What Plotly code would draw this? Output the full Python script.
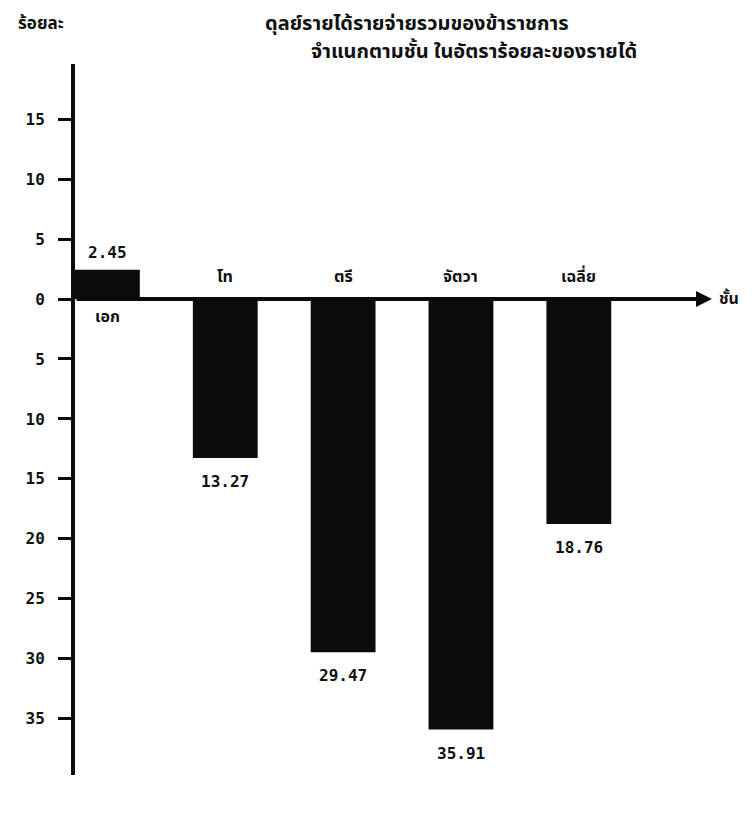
import plotly.graph_objects as go

categories = ["เอก", "โท", "ตรี", "จัตวา", "เฉลี่ย"]
values = [2.45, -13.27, -29.47, -35.91, -18.76]
value_labels = ["2.45", "13.27", "29.47", "35.91", "18.76"]
tick_vals = [15, 10, 5, 0, -5, -10, -15, -20, -25, -30, -35]
tick_text = ["<b>%d</b>" % abs(v) for v in tick_vals]

title_line1 = "ดุลย์รายได้รายจ่ายรวมของข้าราชการ"
title_line2 = "จำแนกตามชั้น ในอัตราร้อยละของรายได้"
y_label = "ร้อยละ"
x_label = "ชั้น"

THAI = "Noto Sans Thai, Noto Sans Thai Looped, Loma, Garuda, Norasi, Tlwg Typo, sans-serif"
MONO = "DejaVu Sans Mono, Liberation Mono, monospace"

W, H = 752, 818
L, R, T, B = 67, 48, 56, 51
PW, PH = W - L - R, H - T - B
OFF = 6


def px_x(px):
    return (px - OFF - L) / PW


def px_y(py):
    return 1 - (py - OFF - T) / PH


xpos = list(range(len(categories)))

fig = go.Figure()
fig.add_trace(go.Bar(
    x=xpos, y=values, width=0.55,
    marker=dict(color="#0b0b0b", line=dict(width=0)),
    showlegend=False, hoverinfo="skip",
))

# value labels
for i, (v, t) in enumerate(zip(values, value_labels)):
    if v >= 0:
        fig.add_annotation(x=i, y=v, text="<b>%s</b>" % t, showarrow=False, yanchor="bottom",
                           yshift=6, font=dict(family=MONO, size=16, color="#111"))
    else:
        fig.add_annotation(x=i, y=v, text="<b>%s</b>" % t, showarrow=False, yanchor="top",
                           yshift=-12, font=dict(family=MONO, size=16, color="#111"))

# category labels
for i, (v, c) in enumerate(zip(values, categories)):
    if v >= 0:
        fig.add_annotation(x=i, y=0, text="<b>%s</b>" % c, showarrow=False, yanchor="top",
                           yshift=-4, font=dict(family=THAI, size=16, color="#111"))
    else:
        fig.add_annotation(x=i, y=0, text="<b>%s</b>" % c, showarrow=False, yanchor="bottom",
                           yshift=8, font=dict(family=THAI, size=16, color="#111"))

# zero line with arrow
fig.add_annotation(x=5.13, y=0, ax=-0.275, ay=0, axref="x", ayref="y",
                   xref="x", yref="y", text="", showarrow=True,
                   arrowhead=2, arrowsize=0.8, arrowwidth=4, arrowcolor="#0b0b0b")

# x label
fig.add_annotation(x=1.0, y=0, xref="paper", yref="y", text="<b>%s</b>" % x_label,
                   showarrow=False, xanchor="left", xshift=5,
                   font=dict(family=THAI, size=16, color="#111"))

# y label
fig.add_annotation(x=px_x(14), y=px_y(22), xref="paper", yref="paper",
                   text="<b>%s</b>" % y_label, showarrow=False,
                   xanchor="left", yanchor="middle",
                   font=dict(family=THAI, size=17, color="#111"))

# title (two separate lines)
fig.add_annotation(x=px_x(415), y=px_y(22), xref="paper", yref="paper",
                   text="<b>%s</b>" % title_line1, showarrow=False,
                   xanchor="center", yanchor="middle",
                   font=dict(family=THAI, size=20, color="#111"))
fig.add_annotation(x=px_x(472), y=px_y(50), xref="paper", yref="paper",
                   text="<b>%s</b>" % title_line2, showarrow=False,
                   xanchor="center", yanchor="middle",
                   font=dict(family=THAI, size=20, color="#111"))

fig.update_layout(
    width=W, height=H,
    margin=dict(l=L, r=R, t=T, b=B, autoexpand=False),
    paper_bgcolor="white", plot_bgcolor="white",
    bargap=0.45,
)
fig.update_xaxes(range=[-0.275, 5.13], showticklabels=False, showgrid=False,
                 zeroline=False, showline=False, ticks="", automargin=False)
fig.update_yaxes(range=[-39.7, 19.6], tickvals=tick_vals, ticktext=tick_text,
                 showgrid=False, zeroline=False, showline=True, linewidth=4,
                 linecolor="#0b0b0b", ticks="outside", ticklen=13, tickwidth=2.5,
                 tickcolor="#0b0b0b", ticklabelstandoff=10, automargin=False,
                 tickfont=dict(family=MONO, size=16, color="#111"))

fig.write_html("out.html")
